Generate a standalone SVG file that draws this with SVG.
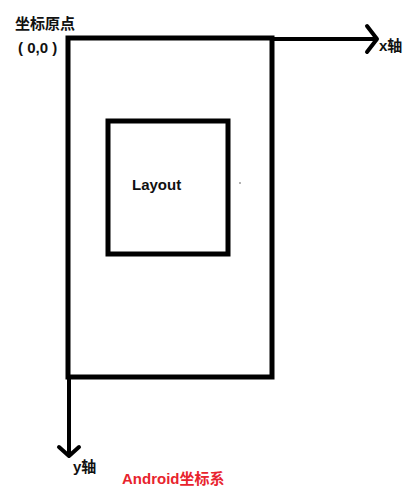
<svg xmlns="http://www.w3.org/2000/svg" width="420" height="494" viewBox="0 0 420 494">
<style>
.t{font-family:"Liberation Sans","Noto Sans CJK SC",sans-serif;font-weight:bold;font-size:15px;fill:#111}
.box{fill:none;stroke:#000;stroke-width:5}
.ax{fill:none;stroke:#000;stroke-width:4;stroke-linecap:round;stroke-linejoin:round}
</style>
<rect width="420" height="494" fill="#fff"/>
<g id="screen"><rect class="box" x="68" y="38" width="204" height="339"/></g>
<g id="layout"><rect class="box" x="108" y="121" width="120" height="133"/><text class="t" x="132" y="190">Layout</text></g>
<g id="connectors">
<path class="ax" d="M272 39 H376"/>
<path class="ax" d="M367 26 L377 39 L367 52"/>
<path class="ax" d="M69 377 V455"/>
<path class="ax" d="M59 447 L69 456 L79 447"/>
</g>
<g id="labels">
<text class="t" x="15" y="29">坐标原点</text>
<text class="t" x="18" y="53">( 0,0 )</text>
<text class="t" x="379" y="51">x轴</text>
<text class="t" x="73" y="472">y轴</text>
<text class="t" x="122" y="484" style="fill:#e8232d">Android坐标系</text>
<circle cx="240" cy="183" r="0.8" fill="#555"/>
</g>
</svg>
